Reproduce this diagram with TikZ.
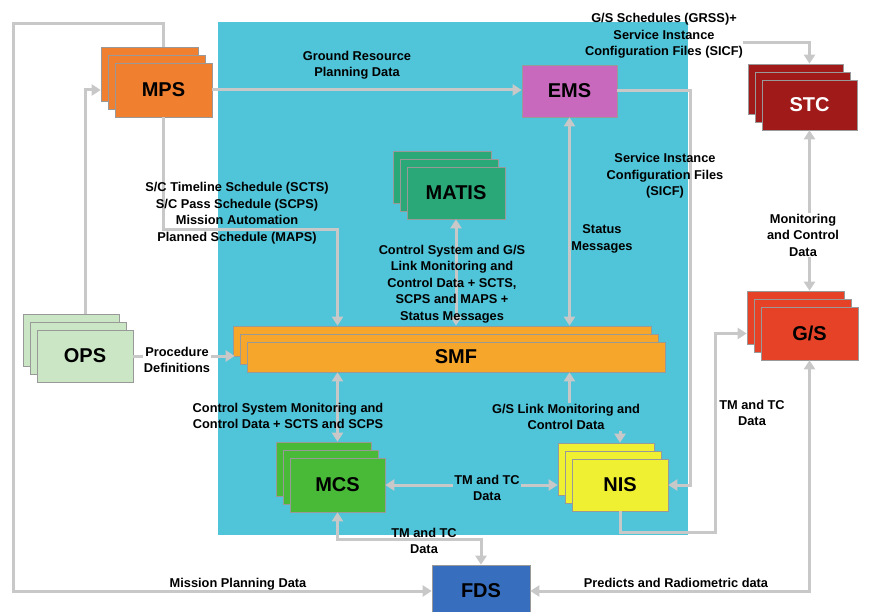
\documentclass[tikz,border=0pt]{standalone}
\usepackage{fontspec}
\setmainfont{Liberation Sans}
\usetikzlibrary{positioning,arrows.meta,shadows}

\definecolor{bgcyan}{RGB}{80,196,216}
\definecolor{linegray}{RGB}{200,200,200}
\definecolor{mpsorange}{RGB}{240,128,48}
\definecolor{emspink}{RGB}{200,105,190}
\definecolor{stcred}{RGB}{160,26,26}
\definecolor{matisgreen}{RGB}{42,168,120}
\definecolor{smforange}{RGB}{246,166,42}
\definecolor{opsgreen}{RGB}{202,230,196}
\definecolor{mcsgreen}{RGB}{72,186,56}
\definecolor{nisyellow}{RGB}{240,240,50}
\definecolor{gsred}{RGB}{230,66,40}
\definecolor{fdsblue}{RGB}{56,110,190}

\tikzset{
  sysbox/.style={draw=black!40, line width=0.6pt, inner sep=0pt,
    font=\fontsize{20}{22}\selectfont\bfseries},
  stack/.style={fill=#1,
    general shadow={shadow xshift=-14pt, shadow yshift=16pt, fill=#1, draw=black!40},
    general shadow={shadow xshift=-7pt, shadow yshift=8pt, fill=#1, draw=black!40}},
  flow/.style={draw=linegray, line width=3pt},
  note/.style={font=\fontsize{12.8}{16.5}\selectfont\bfseries, align=center, inner sep=1pt}
}

\begin{document}
\begin{tikzpicture}[x=1pt, y=-1pt, >={Triangle[length=9pt,width=11pt]}]
\useasboundingbox (0,0) rectangle (869,612);
% shared area
\fill[bgcyan] (218,22) rectangle (688,535);

% systems
\node[sysbox, stack=mpsorange, minimum width=97, minimum height=54] (mps) at (163.5,90) {MPS};
\node[sysbox, fill=emspink, minimum width=95, minimum height=52] (ems) at (569.5,91) {EMS};
\node[sysbox, stack=stcred, text=white, minimum width=95, minimum height=50] (stc) at (809.5,105) {STC};
\node[sysbox, stack=matisgreen, minimum width=98, minimum height=52] (matis) at (456,193) {MATIS};
\node[sysbox, stack=smforange, minimum width=418, minimum height=30] (smf) at (456,357) {SMF};
\node[sysbox, stack=opsgreen, minimum width=96, minimum height=52] (ops) at (85,356) {OPS};
\node[sysbox, stack=mcsgreen, minimum width=95, minimum height=54] (mcs) at (337.5,485) {MCS};
\node[sysbox, stack=nisyellow, minimum width=96, minimum height=52] (nis) at (620,485) {NIS};
\node[sysbox, stack=gsred, minimum width=97, minimum height=53] (gs) at (809.5,333.5) {G/S};
\node[sysbox, fill=fdsblue, minimum width=98, minimum height=52] (fds) at (481,591) {FDS};

% outer edges of the stacks
\coordinate (mpsup) at ([yshift=16pt]mps.north);
\coordinate (mpsleft) at ([xshift=-14pt]mps.west);
\coordinate (opsup) at ([yshift=16pt]ops.north);
\coordinate (smftop) at ([yshift=16pt]smf.north);
\coordinate (smfleft) at ([xshift=-12pt]smf.west);
\coordinate (stcup) at ([yshift=16pt]stc.north);
\coordinate (gsup) at ([yshift=16pt]gs.north);
\coordinate (gsleft) at ([xshift=-14pt]gs.west);
\coordinate (mcsup) at ([yshift=16pt]mcs.north);
\coordinate (nisup) at ([yshift=16pt]nis.north);
\coordinate (nisleft) at ([xshift=-14pt]nis.west);
% bends
\coordinate (loopnw) at (13,24);
\coordinate (sicfne) at (690,91);
\coordinate (grssend) at (743,43);
\coordinate (gsturn) at (715,532);
\coordinate (fdsturn) at (481,539);
\coordinate (schedturn) at (337.5,230);
\coordinate (linkturn) at (620,405);

% data flows
\draw[flow,->] (mpsup) |- (loopnw) |- (fds.west);
\draw[flow,->] (opsup) |- (mpsleft);
\draw[flow,->] (mps.east) -- (mps.east -| ems.west);
\draw[flow,->] (ems.east) -- (sicfne) |- (nis.east);
\draw[flow,->] (grssend) -| (stcup);
\draw[flow,<->] (stc.south) -- (gsup);
\draw[flow,->] (nis.south) |- (gsturn) |- (gsleft);
\draw[flow,<->] (gs.south) |- (fds.east);
\draw[flow,<->] (mcs.south) |- (fdsturn) -- (fds.north);
\draw[flow,<->] (mcs.east) -- (nisleft);
\draw[flow,<->] (smf.south -| mcs.north) -- (mcsup);
\draw[flow,<->] (smf.south -| ems.south) |- (linkturn) -- (nisup);
\draw[flow,<->] (matis.south) -- (smftop -| matis.south);
\draw[flow,<->] (ems.south) -- (smftop -| ems.south);
\draw[flow,->] (mps.south) |- (schedturn) -- (smftop -| schedturn);
\draw[flow,->] (ops.east) -- (ops.east -| smfleft);

% labels
\node[note] (lground) at (357,65) {Ground Resource\\Planning Data};
\node[note] (lgrss) at (664,36) {G/S Schedules (GRSS)+\\Service Instance\\Configuration Files (SICF)};
\node[note] (lsched) at (237,213) {S/C Timeline Schedule (SCTS)\\S/C Pass Schedule (SCPS)\\Mission Automation\\Planned Schedule (MAPS)};
\node[note] (lsicf) at (665,176) {Service Instance\\Configuration Files\\(SICF)};
\node[note] (lstatus) at (602,239) {Status\\Messages};
\node[note, fill=white] (lmon) at (803,235) {Monitoring\\and Control\\Data};
\node[note] (lmatis) at (452,284) {Control System and G/S\\Link Monitoring and\\Control Data + SCTS,\\SCPS and MAPS +\\Status Messages};
\node[note, fill=white] (lproc) at (177,360) {Procedure\\Definitions};
\node[note] (lmcs) at (288,416) {Control System Monitoring and\\Control Data + SCTS and SCPS};
\node[note, fill=bgcyan] (lnis) at (566,417) {G/S Link Monitoring and\\Control Data};
\node[note, fill=bgcyan] (ltmmid) at (487,488) {TM and TC\\Data};
\node[note] (ltmfds) at (424,541) {TM and TC\\Data};
\node[note] (ltmgs) at (752,413) {TM and TC\\Data};
\node[note] (lmission) at (238,584) {Mission Planning Data};
\node[note] (lpredict) at (676,583) {Predicts and Radiometric data};
\end{tikzpicture}
\end{document}
